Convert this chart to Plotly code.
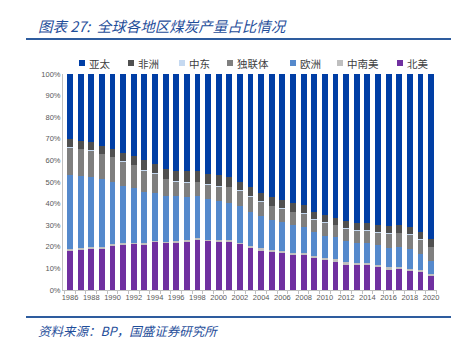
import plotly.graph_objects as go

years = list(range(1986, 2021))

north_america = [18.2, 18.9, 19.4, 19.3, 20.7, 21.2, 21.3, 21.2, 22.3, 21.8, 21.9, 22.4, 23.3, 22.7,
                 22.3, 22.3, 21.5, 19.6, 18.5, 17.8, 17.3, 16.4, 16.2, 14.7, 13.9, 13.1, 11.9, 11.4,
                 11.7, 10.8, 9.6, 9.9, 9.0, 8.5, 6.6]
south_central_america = [0.7, 0.4, 0.4, 0.5, 0.5, 0.4, 0.5, 0.4, 0.4, 0.5, 0.7, 0.6, 0.7, 0.6,
                         0.7, 0.7, 0.4, 0.8, 0.8, 0.7, 0.8, 0.9, 1.1, 1.1, 1.1, 1.1, 0.9, 1.0,
                         1.0, 0.9, 0.9, 0.9, 0.9, 0.8, 1.0]
europe = [34.4, 33.7, 32.4, 31.5, 28.9, 26.6, 25.3, 23.7, 22.4, 21.4, 20.7, 20.0, 19.3, 18.7,
          18.0, 17.2, 17.2, 15.9, 15.0, 14.0, 13.6, 12.8, 11.8, 11.2, 10.2, 10.2, 9.9, 9.4,
          8.9, 9.0, 9.1, 9.0, 9.0, 7.2, 5.8]
cis = [12.6, 12.3, 12.6, 11.7, 11.6, 11.2, 10.8, 10.2, 8.8, 7.7, 7.1, 6.8, 6.7, 6.9,
       7.1, 7.5, 7.0, 6.9, 6.6, 6.5, 6.1, 6.1, 6.3, 5.7, 6.1, 5.8, 5.9, 5.8,
       6.1, 6.1, 6.7, 6.7, 6.8, 6.9, 6.6]
middle_east = [0.1] * 35
africa = [4.0, 3.8, 3.6, 3.8, 3.7, 3.9, 4.0, 4.4, 4.4, 4.6, 4.7, 5.0, 4.8, 4.8,
          5.1, 4.4, 4.0, 4.5, 4.0, 4.0, 4.0, 3.9, 3.8, 3.5, 3.2, 3.2, 3.3, 3.2,
          3.1, 3.2, 3.4, 3.5, 3.3, 3.4, 3.5]
asia_pacific = [30.0, 30.8, 31.5, 33.1, 34.5, 36.6, 38.0, 40.0, 41.6, 43.9, 44.8, 45.1, 45.1, 46.2,
                46.7, 47.8, 49.8, 52.2, 55.0, 56.9, 58.1, 59.8, 60.7, 63.7, 65.4, 66.5, 68.0, 69.1,
                69.1, 69.9, 70.2, 69.9, 70.9, 73.1, 76.4]

# stacking order bottom -> top
series = [
    ("北美", north_america, "#7030A0"),
    ("中南美", south_central_america, "#BFBFBF"),
    ("欧洲", europe, "#5589CC"),
    ("独联体", cis, "#7F7F7F"),
    ("中东", middle_east, "#C5D9F1"),
    ("非洲", africa, "#505050"),
    ("亚太", asia_pacific, "#003EA5"),
]
legend_order = ["亚太", "非洲", "中东", "独联体", "欧洲", "中南美", "北美"]
legend_px = [79, 128, 179, 227, 290, 337, 397]

W, H = 454, 342
L, R, T, B = 63, 17, 74, 52
pw, ph = W - L - R, H - T - B

def px_x(x):
    return (x - L) / pw

def px_y(y):
    return (H - B - y) / ph

fig = go.Figure()
for name, vals, col in series:
    fig.add_trace(go.Bar(x=years, y=vals, name=name, marker=dict(color=col, line=dict(width=0)),
                         width=0.55, showlegend=False))

color_of = {n: c for n, _, c in series}
shapes = []
annotations = []
for name, x0 in zip(legend_order, legend_px):
    shapes.append(dict(type="rect", xref="paper", yref="paper",
                       x0=px_x(x0), x1=px_x(x0 + 6), y0=px_y(66), y1=px_y(60),
                       fillcolor=color_of[name], line=dict(width=0)))
    annotations.append(dict(text=name, xref="paper", yref="paper", x=px_x(x0 + 7.5), y=px_y(63),
                            xanchor="left", yanchor="middle", showarrow=False,
                            font=dict(size=10.5, color="#404040", family="Noto Sans CJK SC")))

# header / footer lines
shapes.append(dict(type="line", xref="paper", yref="paper", x0=px_x(26), x1=px_x(451),
                   y0=px_y(39), y1=px_y(39), line=dict(color="#2E5C9E", width=2)))
shapes.append(dict(type="line", xref="paper", yref="paper", x0=px_x(26), x1=px_x(451),
                   y0=px_y(317), y1=px_y(317), line=dict(color="#2E5C9E", width=2)))

annotations.append(dict(text="<i>图表 27:  全球各地区煤炭产量占比情况</i>", xref="paper", yref="paper",
                        x=px_x(36), y=px_y(25), xanchor="left", yanchor="middle", showarrow=False,
                        font=dict(size=14.5, color="#1F4E9A", family="Noto Sans CJK SC")))
annotations.append(dict(text="<i>资料来源：BP，国盛证券研究所</i>", xref="paper", yref="paper",
                        x=px_x(36), y=px_y(330), xanchor="left", yanchor="middle", showarrow=False,
                        font=dict(size=12.5, color="#1F4E9A", family="Noto Sans CJK SC")))

fig.update_layout(
    width=W, height=H, barmode="stack",
    margin=dict(l=L, r=R, t=T, b=B),
    paper_bgcolor="white", plot_bgcolor="white",
    shapes=shapes, annotations=annotations,
    font=dict(family="Liberation Sans", size=7, color="#595959"),
)
fig.update_xaxes(range=[1985.34, 2020.56], tickmode="array", tickvals=years[::2],
                 ticktext=[str(y) for y in years[::2]], ticks="", showgrid=False,
                 showline=True, linecolor="#BFBFBF", linewidth=1,
                 tickfont=dict(size=7.5, color="#595959"),
                 minor=dict(ticks="outside", tick0=1985.5, dtick=1, ticklen=3, tickcolor="#BFBFBF",
                            showgrid=False))
fig.update_yaxes(range=[0, 100], tickvals=list(range(0, 101, 10)),
                 ticktext=[f"{v}%" for v in range(0, 101, 10)], showgrid=False,
                 showline=True, linecolor="#BFBFBF", linewidth=1, ticks="",
                 tickfont=dict(size=7.5, color="#595959"))

fig.write_html("out.html")
